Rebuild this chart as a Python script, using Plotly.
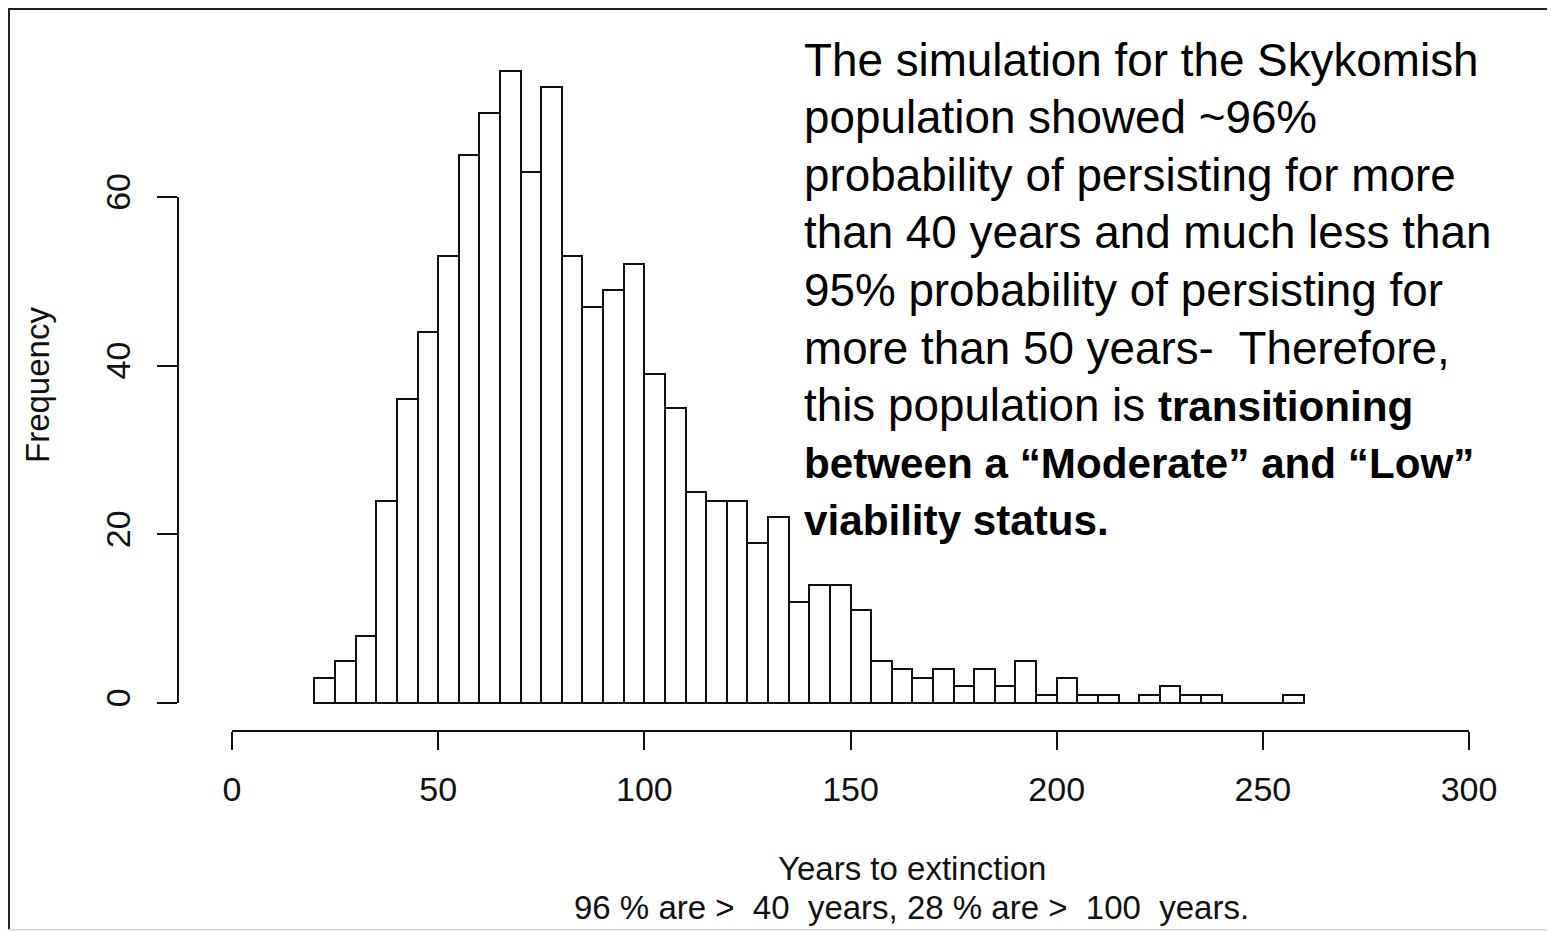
import plotly.graph_objects as go

# ---------------- data ----------------
bin_left = [20, 25, 30, 35, 40, 45, 50, 55, 60, 65, 70, 75, 80, 85, 90, 95,
            100, 105, 110, 115, 120, 125, 130, 135, 140, 145, 150, 155, 160,
            165, 170, 175, 180, 185, 190, 195, 200, 205, 210, 215, 220, 225,
            230, 235, 240, 245, 250, 255]
bin_width = 5
counts = [3, 5, 8, 24, 36, 44, 53, 65, 70, 75,
          63, 73, 53, 47, 49, 52, 39, 35, 25, 24,
          24, 19, 22, 12, 14, 14, 11, 5, 4, 3,
          4, 2, 4, 2, 5, 1, 3, 1, 1, 0,
          1, 2, 1, 1, 0, 0, 0, 1]
x_ticks = [0, 50, 100, 150, 200, 250, 300]
y_ticks = [0, 20, 40, 60]
x_title = "Years to extinction"
x_subtitle = "96 % are &gt;  40  years, 28 % are &gt;  100  years."
y_title = "Frequency"
BOLD = '<b><span style="font-size:42.2px">{}</span></b>'
note_lines = [
    "The simulation for the Skykomish",
    "population showed ~96%",
    "probability of persisting for more",
    "than 40 years and much less than",
    "95% probability of persisting for",
    "more than 50 years-  Therefore,",
    "this population is " + BOLD.format("transitioning"),
    BOLD.format("between a \u201cModerate\u201d and \u201cLow\u201d"),
    BOLD.format("viability status."),
]

# ---------------- geometry (page pixels; the page body has an 8px margin) ----
OFF = 8
W, H = 1555 - OFF, 931 - OFF
ML = 178 - OFF
MR = W - (1518 - OFF)
MT = 42 - OFF
MB = H - (731 - OFF)
PW, PH = W - ML - MR, H - MT - MB
kx = (1469 - 232) / 300.0          # px per year
ky = (703 - 197) / 60.0            # px per count
x_range = [(178 - 232) / kx, (1518 - 232) / kx]
y_range = [(703 - 731) / ky, (703 - 42) / ky]


def xp(px):
    return (px - OFF - ML) / PW


def yp(py):
    return (H - MB - (py - OFF)) / PH


centers = [b + bin_width / 2 for b in bin_left]
FONT = "Liberation Sans, Arial, sans-serif"

fig = go.Figure()
fig.add_trace(go.Bar(
    x=centers, y=counts, width=bin_width,
    marker=dict(color="white", line=dict(color="#111111", width=2)),
    showlegend=False, hoverinfo="x+y",
))
# baseline across empty bins (R draws zero-height bars as a line)
fig.add_trace(go.Scatter(
    x=[bin_left[0], bin_left[-1] + bin_width], y=[0, 0], mode="lines",
    line=dict(color="#111111", width=2), showlegend=False, hoverinfo="skip",
))

shapes = [
    dict(type="rect", xref="paper", yref="paper", x0=xp(8), x1=xp(1560),
         y0=yp(929), y1=yp(8), fillcolor="white", line=dict(width=0),
         layer="below"),
    dict(type="line", xref="paper", yref="paper", x0=xp(9), x1=xp(9),
         y0=yp(929), y1=yp(8), line=dict(color="#222222", width=2)),
    dict(type="line", xref="paper", yref="paper", x0=xp(8), x1=xp(1560),
         y0=yp(9), y1=yp(9), line=dict(color="#222222", width=2)),
    dict(type="line", xref="paper", yref="paper", x0=xp(8), x1=xp(1560),
         y0=yp(929.5), y1=yp(929.5), line=dict(color="#d8d8e8", width=1)),
    # R-style axis lines
    dict(type="line", xref="x", yref="paper", x0=x_ticks[0], x1=x_ticks[-1],
         y0=0, y1=0, line=dict(color="#111111", width=2)),
    dict(type="line", xref="paper", yref="y", x0=0, x1=0,
         y0=y_ticks[0], y1=y_ticks[-1], line=dict(color="#111111", width=2)),
]

annotations = [
    dict(text=x_title, xref="paper", yref="paper", x=xp(912), y=yp(869),
         xanchor="center", yanchor="middle", showarrow=False,
         font=dict(family=FONT, size=33, color="#111111")),
    dict(text=x_subtitle, xref="paper", yref="paper", x=xp(911), y=yp(907),
         xanchor="center", yanchor="middle", showarrow=False,
         font=dict(family=FONT, size=33, color="#111111")),
    dict(text=y_title, xref="paper", yref="paper", x=xp(37), y=yp(385),
         xanchor="center", yanchor="middle", showarrow=False, textangle=-90,
         font=dict(family=FONT, size=33, color="#111111")),
]
for i, line in enumerate(note_lines):
    annotations.append(dict(
        text=line, xref="paper", yref="paper", x=xp(802), y=yp(60 + 57.6 * i),
        xanchor="left", yanchor="middle", showarrow=False, align="left",
        font=dict(family=FONT, size=45.8, color="black"),
    ))

fig.update_layout(
    width=W, height=H,
    margin=dict(l=ML, r=MR, t=MT, b=MB, pad=0),
    paper_bgcolor="#e8e8e3",
    plot_bgcolor="rgba(0,0,0,0)",
    bargap=0,
    shapes=shapes,
    annotations=annotations,
    xaxis=dict(range=x_range, tickvals=x_ticks, ticktext=[str(v) for v in x_ticks],
               ticks="outside", ticklen=18, tickwidth=2, tickcolor="#111111",
               showgrid=False, zeroline=False, showline=False,
               ticklabelstandoff=10,
               tickfont=dict(family=FONT, size=34, color="#111111")),
    yaxis=dict(range=y_range, tickvals=y_ticks, ticktext=[str(v) for v in y_ticks],
               ticks="outside", ticklen=20, tickwidth=2, tickcolor="#111111",
               tickangle=-90, showgrid=False, zeroline=False, showline=False,
               ticklabelstandoff=13,
               tickfont=dict(family=FONT, size=34, color="#111111")),
)

fig.write_html("out.html")
